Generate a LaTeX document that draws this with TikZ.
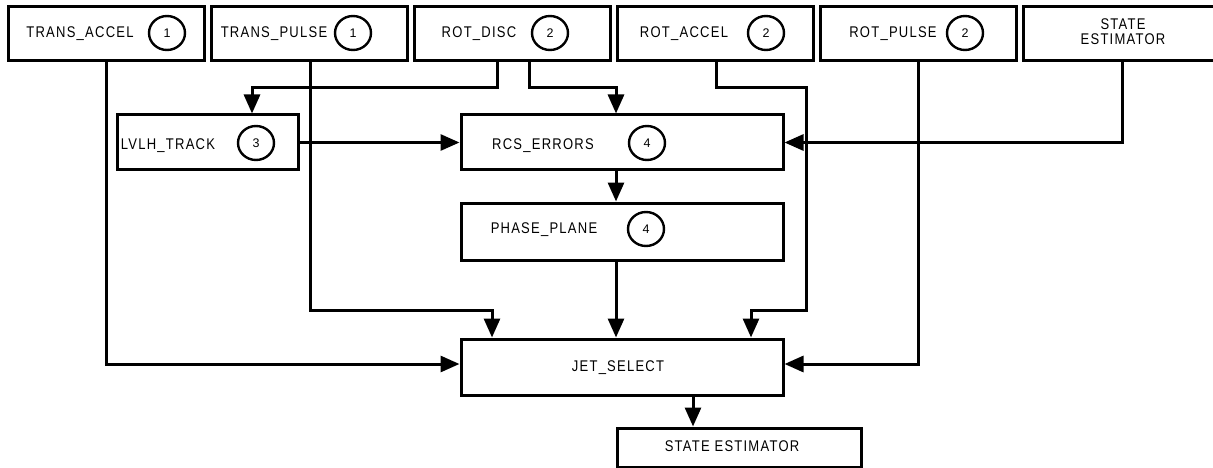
\documentclass[tikz,border=0pt]{standalone}
\usepackage{fontspec}
\setmainfont{Liberation Sans}[FakeStretch=0.84, LetterSpace=8]
\newfontfamily\numfont{Liberation Sans}
\usetikzlibrary{arrows.meta,calc,shapes.geometric}
\begin{document}
\begin{tikzpicture}[x=1pt,y=-1pt,
  box/.style={draw,line width=3pt,rectangle,inner sep=0pt},
  lbl/.style={inner sep=0pt,anchor=base,font=\fontsize{15.5}{18}\selectfont},
  num/.style={draw,ellipse,line width=2.4pt,minimum width=36pt,minimum height=34pt,inner sep=0pt,font=\numfont\fontsize{12.5}{14}\selectfont},
  arr/.style={line width=3pt,-{Triangle[length=19pt,width=16pt]}},
  ln/.style={line width=3pt}]
\useasboundingbox (0,0) rectangle (1213,468);
\begin{scope}
\clip (0,0) rectangle (1213,468);
% top row
\node[box,minimum width=196pt,minimum height=54pt] (ta) at (106,34) {};
\node[box,minimum width=196pt,minimum height=54pt] (tp) at (309,34) {};
\node[box,minimum width=196pt,minimum height=54pt] (rd) at (512,34) {};
\node[box,minimum width=196pt,minimum height=54pt] (ra) at (715,34) {};
\node[box,minimum width=196pt,minimum height=54pt] (rp) at (918,34) {};
\node[box,minimum width=200pt,minimum height=54pt] (se1) at (1123,34) {};
\node[lbl] (ta-t) at (80,37.5) {TRANS\_ACCEL};
\node[num] (ta-c) at (167,33) {1};
\node[lbl] (tp-t) at (274,37.5) {TRANS\_PULSE};
\node[num] (tp-c) at (353,33) {1};
\node[lbl] (rd-t) at (479,37.5) {ROT\_DISC};
\node[num] (rd-c) at (550,33) {2};
\node[lbl] (ra-t) at (684,37.5) {ROT\_ACCEL};
\node[num] (ra-c) at (766,33) {2};
\node[lbl] (rp-t) at (893,37.5) {ROT\_PULSE};
\node[num] (rp-c) at (965,33) {2};
\node[lbl,anchor=center,align=center] (se1-t) at (1123,31.5) {STATE\\[-3pt]ESTIMATOR};
% middle
\node[box,minimum width=181pt,minimum height=55pt] (lv) at (207.5,142.5) {};
\node[lbl] (lv-t) at (168,149.5) {LVLH\_TRACK};
\node[num] (lv-c) at (256,143) {3};
\node[box,minimum width=322pt,minimum height=55pt] (rcs) at (622,142.5) {};
\node[lbl] (rcs-t) at (543,149.5) {RCS\_ERRORS};
\node[num] (rcs-c) at (647,143) {4};
\node[box,minimum width=322pt,minimum height=57pt] (pp) at (622,231.5) {};
\node[lbl] (pp-t) at (544,233.5) {PHASE\_PLANE};
\node[num] (pp-c) at (646,229) {4};
\node[box,minimum width=322pt,minimum height=56pt] (jet) at (622,367) {};
\node[lbl] (jet-t) at (618,371.5) {JET\_SELECT};
\node[box,minimum width=244pt,minimum height=39pt] (se2) at (739,447.5) {};
\node[lbl] (se2-t) at (732,451.5) {STATE ESTIMATOR};
% connectors
\draw[arr] (ta.south) |- ([yshift=3pt]jet.west);
\draw[arr] ([xshift=1pt]tp.south) |- (492,310) -- (jet.north -| 492,0);
\draw[arr] (rd.south -| 497,0) |- (252,88) -- (lv.north -| 252,0);
\draw[arr] (rd.south -| 529,0) |- (616,88) -- (rcs.north -| 616,0);
\draw[arr] (lv.east) -- (rcs.west);
\draw[arr] (ra.south -| 716,0) |- (806,88) |- (751,310) -- (jet.north -| 751,0);
\draw[arr] (rp.south) |- ([yshift=3pt]jet.east);
\draw[arr] (se1.south -| 1122,0) |- (rcs.east);
\draw[arr] (rcs.south -| 616,0) -- (pp.north -| 616,0);
\draw[arr] (pp.south -| 616,0) -- (jet.north -| 616,0);
\draw[arr] (jet.south -| 693,0) -- (se2.north -| 693,0);
\end{scope}
\end{tikzpicture}
\end{document}
